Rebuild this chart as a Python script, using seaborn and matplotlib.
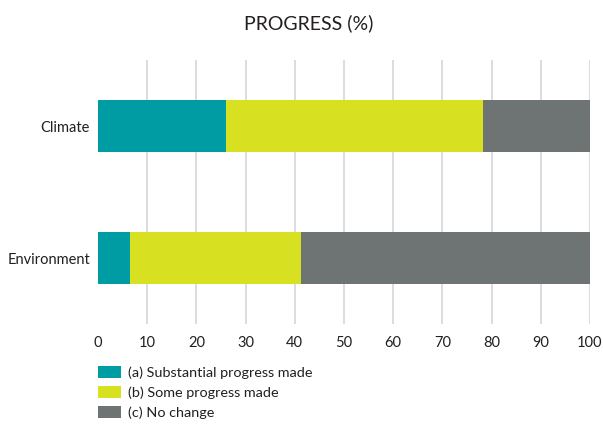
import matplotlib
matplotlib.use("Agg")
import matplotlib.pyplot as plt
import seaborn as sns
import pandas as pd
from matplotlib.patches import Patch

categories = ["Climate", "Environment"]
substantial = [26.0, 6.5]
some = [52.3, 34.8]
no_change = [21.7, 58.7]
series_labels = ["(a) Substantial progress made", "(b) Some progress made", "(c) No change"]
colors = ["#009CA3", "#D7E021", "#6E7473"]
xticks = [0, 10, 20, 30, 40, 50, 60, 70, 80, 90, 100]
title = "PROGRESS (%)"

sns.set_theme(style="white")
plt.rcParams["font.family"] = ["Lato", "DejaVu Sans"]

df = pd.DataFrame({"category": categories, "a": substantial, "b": some, "c": no_change})
df["cum_a"] = df["a"]
df["cum_b"] = df["a"] + df["b"]
df["cum_c"] = df["a"] + df["b"] + df["c"]

fig = plt.figure(figsize=(6.03, 4.26), dpi=100)
ax = fig.add_axes([98 / 603, 1 - 324 / 426, 492 / 603, 264 / 426])

for col, color in zip(["cum_c", "cum_b", "cum_a"], colors[::-1]):
    sns.barplot(data=df, y="category", x=col, orient="h", color=color,
                width=0.4, saturation=1, ax=ax, zorder=2, linewidth=0)

ax.set_xlim(0, 100)
ax.set_ylim(1.5, -0.5)
ax.set_xticks(xticks)
ax.set_xticklabels([str(t) for t in xticks])
ax.set_xlabel("")
ax.set_ylabel("")
for s in ax.spines.values():
    s.set_visible(False)
ax.grid(axis="x", color="#D3D3D3", linewidth=1.1, zorder=0)
ax.set_axisbelow(True)
gl = ax.xaxis.get_gridlines()
gl[0].set_visible(False)
ax.tick_params(axis="both", length=0, labelsize=10.5, colors="#231F20")
ax.tick_params(axis="x", pad=8.5)
ax.tick_params(axis="y", pad=5.8)

fig.text(309 / 603, 1 - 23 / 426, title, ha="center", va="center", fontsize=14, color="#231F20")

handles = [Patch(facecolor=c, edgecolor="none") for c in colors]
leg = fig.legend(handles, series_labels, loc="upper left",
                 bbox_to_anchor=(98 / 603, 1 - 366 / 426), frameon=False,
                 fontsize=10.4, handlelength=1.6, handleheight=0.88,
                 handletextpad=0.45, labelspacing=0.5, borderaxespad=0, borderpad=0)
for t in leg.get_texts():
    t.set_color("#231F20")

fig.savefig("out.png", dpi=100)
